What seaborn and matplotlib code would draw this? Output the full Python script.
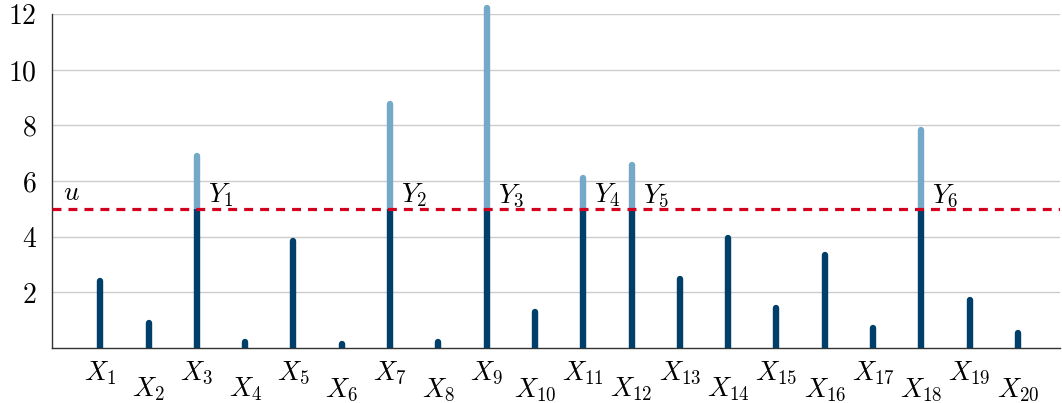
import numpy as np
import matplotlib
matplotlib.use("Agg")
import matplotlib.pyplot as plt
import seaborn as sns

# ---- data ----
positions = list(range(1, 21))
values = [2.4, 0.9, 6.9, 0.2, 3.85, 0.15, 8.77, 0.22, 12.2, 1.3,
          6.1, 6.58, 2.48, 3.95, 1.43, 3.34, 0.72, 7.84, 1.73, 0.54]
x_labels = [f"$X_{{{i}}}$" for i in positions]
threshold = 5.0
y_ticks = [2, 4, 6, 8, 10, 12]
exceed_labels = ["$Y_{1}$", "$Y_{2}$", "$Y_{3}$", "$Y_{4}$", "$Y_{5}$", "$Y_{6}$"]

DARK = "#013f6b"
LIGHT = "#74a9c7"
RED = "#d2001e"
FS = 19.5

sns.set_theme(style="whitegrid")
plt.rcParams["mathtext.fontset"] = "cm"
plt.rcParams["font.family"] = ["DejaVu Serif"]
plt.rcParams["text.color"] = "black"

fig = plt.figure(figsize=(10.62, 4.03), dpi=100)
ax = fig.add_axes([52 / 1062, (403 - 348) / 403, (1060 - 52) / 1062, (348 - 14) / 403])

vals = np.array(values)
pos = np.array(positions)
exc = vals > threshold

# light parts above the threshold
ax.vlines(pos[exc], threshold, vals[exc], colors=LIGHT, linewidth=4.6,
          capstyle="round", zorder=3, clip_on=False)
# dark parts for exceeding bars (flat at threshold)
ax.vlines(pos[exc], 0, threshold, colors=DARK, linewidth=4.6,
          capstyle="butt", zorder=4)
# dark bars below the threshold
ax.vlines(pos[~exc], 0, vals[~exc], colors=DARK, linewidth=4.6,
          capstyle="round", zorder=4)

# threshold line
ax.axhline(threshold, color=RED, linewidth=2.3, linestyle=(0, (2.8, 2.2)), zorder=5)
ax.text(0.22, threshold + 0.3, "$u$", fontsize=FS, ha="left", va="baseline",
        color="black", zorder=6)
for lab, xp in zip(exceed_labels, pos[exc]):
    ax.text(xp + 0.23, threshold + 0.22, lab, fontsize=FS, ha="left", va="baseline",
            color="black", zorder=6)

ax.set_xlim(0, 20.87)
ax.set_ylim(0, 12)

ax.set_yticks(y_ticks)
ax.set_yticklabels([f"${t}$" for t in y_ticks], fontsize=FS + 0.5)
ax.tick_params(axis="y", direction="in", length=7, width=1, color="#999999", pad=11,
               labelcolor="black")

odd = [p for p in positions if p % 2 == 1]
even = [p for p in positions if p % 2 == 0]
ax.set_xticks(odd)
ax.set_xticklabels([x_labels[p - 1] for p in odd], fontsize=FS)
ax.set_xticks(even, minor=True)
ax.set_xticklabels([x_labels[p - 1] for p in even], minor=True, fontsize=FS)
ax.tick_params(axis="x", which="major", length=0, pad=8, labelcolor="black")
ax.tick_params(axis="x", which="minor", length=0, pad=20, labelsize=FS, labelcolor="black")

ax.grid(axis="y", color="#cccccc", linewidth=1.0)
ax.grid(axis="x", visible=False)
ax.grid(axis="x", which="minor", visible=False)
ax.set_axisbelow(True)

for s in ["top", "right"]:
    ax.spines[s].set_visible(False)
for s in ["left", "bottom"]:
    ax.spines[s].set_color("#333333")
    ax.spines[s].set_linewidth(1.0)
ax.set_facecolor("white")

fig.savefig("out.png", dpi=100, facecolor="white")
